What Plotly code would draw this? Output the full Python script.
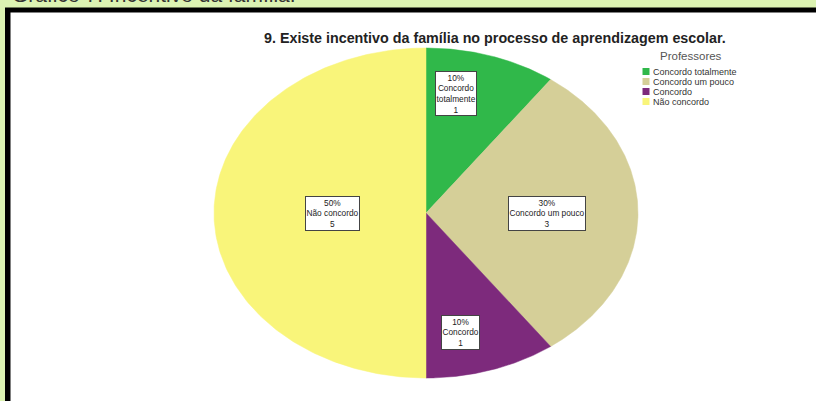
import numpy as np
import plotly.graph_objects as go

# ---- data ----
categories = ["Concordo totalmente", "Concordo um pouco", "Concordo", "Não concordo"]
counts = [1, 3, 1, 5]
colors = ["#30b84a", "#d5cf98", "#7d2a7c", "#f9f57a"]
title = "9. Existe incentivo da família no processo de aprendizagem escolar."
legend_title = "Professores"
caption = "Gráfico 7: Incentivo da família."

# ---- layout parameters (pixels) ----
W, H = 816, 401
cx, cy, rx, ry = 426, 213, 212, 165
lab_kx = [0.46, 0.57, 0.52, 0.44]
lab_ky = 0.76
FONT = "Liberation Sans, Arial, sans-serif"

fig = go.Figure()

total = sum(counts)
start = 0.0
for i, (cat, v, col) in enumerate(zip(categories, counts, colors)):
    frac = v / total
    a0, a1 = start, start + frac * 2 * np.pi
    t = np.linspace(a0, a1, 200)
    xs = np.concatenate([[cx], cx + rx * np.sin(t), [cx]])
    ys = np.concatenate([[cy], cy - ry * np.cos(t), [cy]])
    fig.add_trace(go.Scatter(x=xs, y=ys, fill="toself", fillcolor=col, mode="lines",
                             line=dict(color=col, width=0.5), hoverinfo="skip", showlegend=False))
    mid = (a0 + a1) / 2
    lx = cx + rx * lab_kx[i] * np.sin(mid)
    ly = cy - ry * lab_ky * np.cos(mid)
    txt = "Concordo<br>totalmente" if cat == "Concordo totalmente" else cat
    fig.add_annotation(x=lx, y=ly, xref="x", yref="y", showarrow=False,
                       text=f"{round(frac*100)}%<br>{txt}<br>{v}",
                       font=dict(family=FONT, size=8.3, color="#222"),
                       bgcolor="white", bordercolor="#444", borderwidth=1, borderpad=0.5)
    start = a1

# manual legend
leg_x, leg_y0, leg_dy = 646, 71.5, 10
leg_y = [leg_y0 + k * leg_dy for k in range(len(categories))]
fig.add_trace(go.Scatter(x=[leg_x] * len(categories), y=leg_y, mode="markers",
                         marker=dict(symbol="square", size=7, color=colors),
                         hoverinfo="skip", showlegend=False))
for k, cat in enumerate(categories):
    fig.add_annotation(x=leg_x + 6, y=leg_y[k], xref="x", yref="y", showarrow=False,
                       xanchor="left", yanchor="middle", text=cat, borderpad=0,
                       font=dict(family=FONT, size=9, color="#333"))
fig.add_annotation(x=691, y=56, xref="x", yref="y", showarrow=False,
                   text=legend_title, font=dict(family=FONT, size=11.5, color="#555"))

# title
fig.add_annotation(x=495, y=38, xref="x", yref="y", showarrow=False,
                   text="<b>" + title + "</b>", font=dict(family=FONT, size=14.3, color="#222"))

# caption (cut off at top, as in the reference)
fig.add_annotation(x=10, y=8.5, xref="x", yref="y", showarrow=False, xanchor="left", yanchor="bottom",
                   text=caption, font=dict(family=FONT, size=21, color="#333"))

# frame shapes
fig.add_shape(type="rect", x0=5, y0=7.5, x1=W + 20, y1=H + 20, xref="x", yref="y",
              fillcolor="black", line=dict(width=0), layer="below")
fig.add_shape(type="rect", x0=10.5, y0=12.5, x1=W + 20, y1=H + 20, xref="x", yref="y",
              fillcolor="white", line=dict(width=0), layer="below")

fig.update_layout(width=W, height=H, margin=dict(l=0, r=0, t=0, b=0),
                  paper_bgcolor="#dcf3b2", plot_bgcolor="rgba(0,0,0,0)",
                  xaxis=dict(range=[0, W], visible=False, fixedrange=True),
                  yaxis=dict(range=[H, 0], visible=False, fixedrange=True),
                  showlegend=False)

fig.write_html("out.html")
